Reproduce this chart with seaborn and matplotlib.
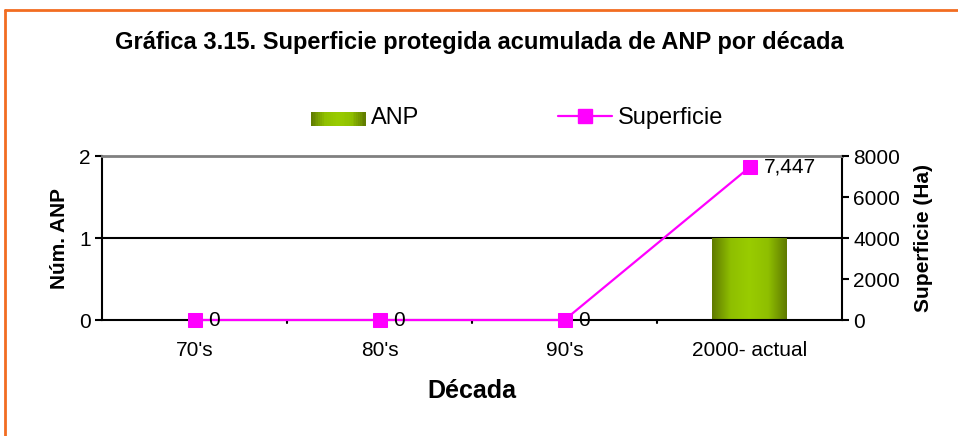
import numpy as np
import pandas as pd
import matplotlib
matplotlib.use("Agg")
import matplotlib.pyplot as plt
import seaborn as sns
from matplotlib.patches import Rectangle
from matplotlib.lines import Line2D
from matplotlib.legend_handler import HandlerBase
from matplotlib.colors import LinearSegmentedColormap

# ---- data ----
decadas = ["70's", "80's", "90's", "2000- actual"]
anp = [0, 0, 0, 1]
superficie = [0, 0, 0, 7447]
etiquetas_sup = ["0", "0", "0", "7,447"]

sns.set_theme(style="white")
plt.rcParams['font.family'] = ['Liberation Sans', 'DejaVu Sans']
for k in ["text.color", "axes.labelcolor", "xtick.color", "ytick.color"]:
    plt.rcParams[k] = "black"

df = pd.DataFrame({"Década": decadas, "ANP": anp, "Superficie": superficie})

fig = plt.figure(figsize=(9.58, 4.36), dpi=100)
ax = fig.add_axes([102/958, 1-320/436, 740/958, 164/436])

green_cmap = LinearSegmentedColormap.from_list(
    "g", ["#5f7a00", "#8fbf00", "#99cc00", "#8fbf00", "#5f7a00"])

sns.barplot(data=df, x="Década", y="ANP", ax=ax, width=0.405,
            color="#88b800", saturation=1, edgecolor="none", zorder=2)

# gradient fill on bars
grad = np.linspace(0, 1, 256).reshape(1, -1)
for p in ax.patches:
    h = p.get_height()
    if h <= 0:
        continue
    x0 = p.get_x(); w = p.get_width()
    im = ax.imshow(grad, cmap=green_cmap, extent=[x0, x0 + w, 0, h],
                   aspect="auto", zorder=2.5, interpolation="bilinear")
    im.set_clip_path(p)
ax.set_xlim(-0.5, 3.5)
ax.set_ylim(0, 2)

# axes styling
ax.axhline(1, color="black", lw=1.5, zorder=1)
for s in ["left", "bottom"]:
    ax.spines[s].set_color("black"); ax.spines[s].set_linewidth(1.5)
ax.spines["top"].set_color("#808080"); ax.spines["top"].set_linewidth(2)
ax.spines["right"].set_color("black"); ax.spines["right"].set_linewidth(1.5)
ax.set_yticks([0, 1, 2])
ax.tick_params(axis="y", direction="out", length=5, width=1.5, color="black",
               left=True, labelsize=15, pad=3)
ax.set_xticks(range(4))
ax.set_xticklabels(decadas, fontsize=15)
ax.tick_params(axis="x", length=0, labelsize=15, pad=15)
for xb in [0.5, 1.5, 2.5]:
    ax.plot([xb, xb], [0, -0.04], color="black", lw=1.5, clip_on=False,
            transform=ax.transData, zorder=5)
ax.set_ylabel("Núm. ANP", fontsize=15, fontweight="bold", labelpad=7)
ax.set_xlabel("Década", fontsize=18, fontweight="bold", labelpad=14)

ax2 = ax.twinx()
sns.lineplot(x=np.arange(4), y=superficie, ax=ax2, color="#ff00ff", lw=1.6,
             marker="s", markersize=10, markeredgecolor="#ff00ff", zorder=4,
             clip_on=False)
ax2.set_ylim(0, 8000)
ax2.set_yticks([0, 2000, 4000, 6000, 8000])
ax2.tick_params(axis="y", direction="out", length=5, width=1.5, color="black",
                right=True, labelsize=15, pad=3)
for s in ax2.spines.values():
    s.set_visible(False)
ax2.set_ylabel("Superficie (Ha)", fontsize=15, fontweight="bold", labelpad=10)
for i, (v, t) in enumerate(zip(superficie, etiquetas_sup)):
    ax2.annotate(t, (i, v), xytext=(10, 0), textcoords="offset points",
                 ha="left", va="center", fontsize=15, zorder=6)

# legend
class GradHandler(HandlerBase):
    def create_artists(self, legend, orig, xd, yd, w, h, fs, trans):
        arts = []
        n = 30
        for k in range(n):
            c = green_cmap((k + 0.5) / n)
            r = Rectangle((xd + w * k / n, yd), w / n + 0.3, h, facecolor=c,
                          edgecolor="none", transform=trans)
            arts.append(r)
        return arts

bar_handle = Rectangle((0, 0), 1, 1)
line_handle = Line2D([], [], color="#ff00ff", lw=1.6, marker="s",
                     markersize=10, markeredgecolor="#ff00ff")
fig.legend([bar_handle, line_handle], ["ANP", "Superficie"],
           handler_map={Rectangle: GradHandler()},
           loc="center left", bbox_to_anchor=(311/958, 1 - 118/436), ncol=2,
           frameon=False, fontsize=17, handlelength=2.3, handleheight=0.5,
           columnspacing=5.85, handletextpad=0.25, borderpad=0,
           borderaxespad=0)

fig.text(0.5, 1 - 43/436, "Gráfica 3.15. Superficie protegida acumulada de ANP por década",
         ha="center", va="center", fontsize=17, fontweight="bold")

# orange frame (left and top)
fig.add_artist(Line2D([5/958, 5/958], [0, 1 - 10/436], color="#f26d21", lw=2,
                      transform=fig.transFigure))
fig.add_artist(Line2D([5/958, 1], [1 - 10/436, 1 - 10/436], color="#f26d21", lw=2,
                      transform=fig.transFigure))

fig.savefig("out.png", dpi=100)
